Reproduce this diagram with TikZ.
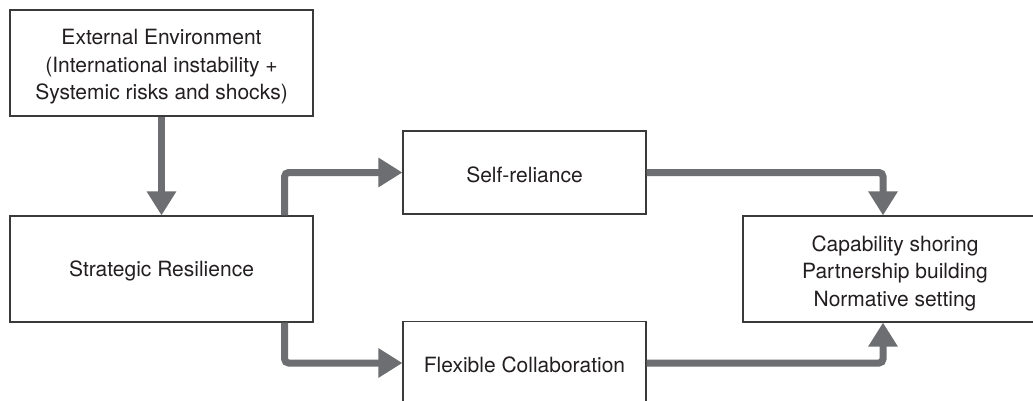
\documentclass[tikz,border=0pt]{standalone}
\usepackage{fontspec}
\setmainfont{TeX Gyre Heros}
\usetikzlibrary{arrows.meta,calc}
\definecolor{flowgray}{HTML}{6D6E71}
\definecolor{boxline}{HTML}{3A3A3A}
\definecolor{txt}{HTML}{231F20}
\begin{document}
\begin{tikzpicture}[x=1pt,y=-1pt,
  box/.style={draw=boxline,line width=1.2pt,fill=white,inner sep=0pt},
  caption/.style={align=center,text=txt,inner sep=0pt,
    font=\fontsize{21}{27.5}\selectfont},
  flow/.style={draw=flowgray,line width=7pt,rounded corners=4pt,
    -{Triangle[width=28pt,length=24pt]}}]
  \clip (0,0) rectangle (1033,400);
  \fill[white] (0,0) rectangle (1033,400);

  % boxes
  \node[box,minimum width=303pt,minimum height=106pt] (ext) at (161.5,63) {};
  \node[box,minimum width=303pt,minimum height=106pt] (sr) at (161.5,269) {};
  \node[box,minimum width=243pt,minimum height=83pt] (self) at (524.5,172.5) {};
  \node[box,minimum width=243pt,minimum height=83pt] (flex) at (524.5,363) {};
  \node[box,minimum width=304pt,minimum height=106pt] (res) at (895,269) {};

  % box texts
  \node[caption] (extT) at ([yshift=-4pt]ext.center)
    {External Environment\\(International instability +\\Systemic risks and shocks)};
  \node[caption] (srT) at ([yshift=-1.5pt]sr.center) {Strategic Resilience};
  \node[caption] (selfT) at ([yshift=-2pt]self.center) {Self-reliance};
  \node[caption] (flexT) at ([yshift=-1.5pt]flex.center) {Flexible Collaboration};
  \node[caption] (resT) at ([yshift=-4pt]res.center)
    {Capability shoring\\Partnership building\\Normative setting};

  % arrows
  \draw[flow] (ext.south) -- (sr.north);
  \draw[flow] ([xshift=-29pt]sr.north east) |- (self.west);
  \draw[flow] ([xshift=-29pt]sr.south east) |- (flex.west);
  \draw[flow] (self.east) -| ([xshift=-12pt]res.north);
  \draw[flow] (flex.east) -| ([xshift=-12pt]res.south);
\end{tikzpicture}
\end{document}
